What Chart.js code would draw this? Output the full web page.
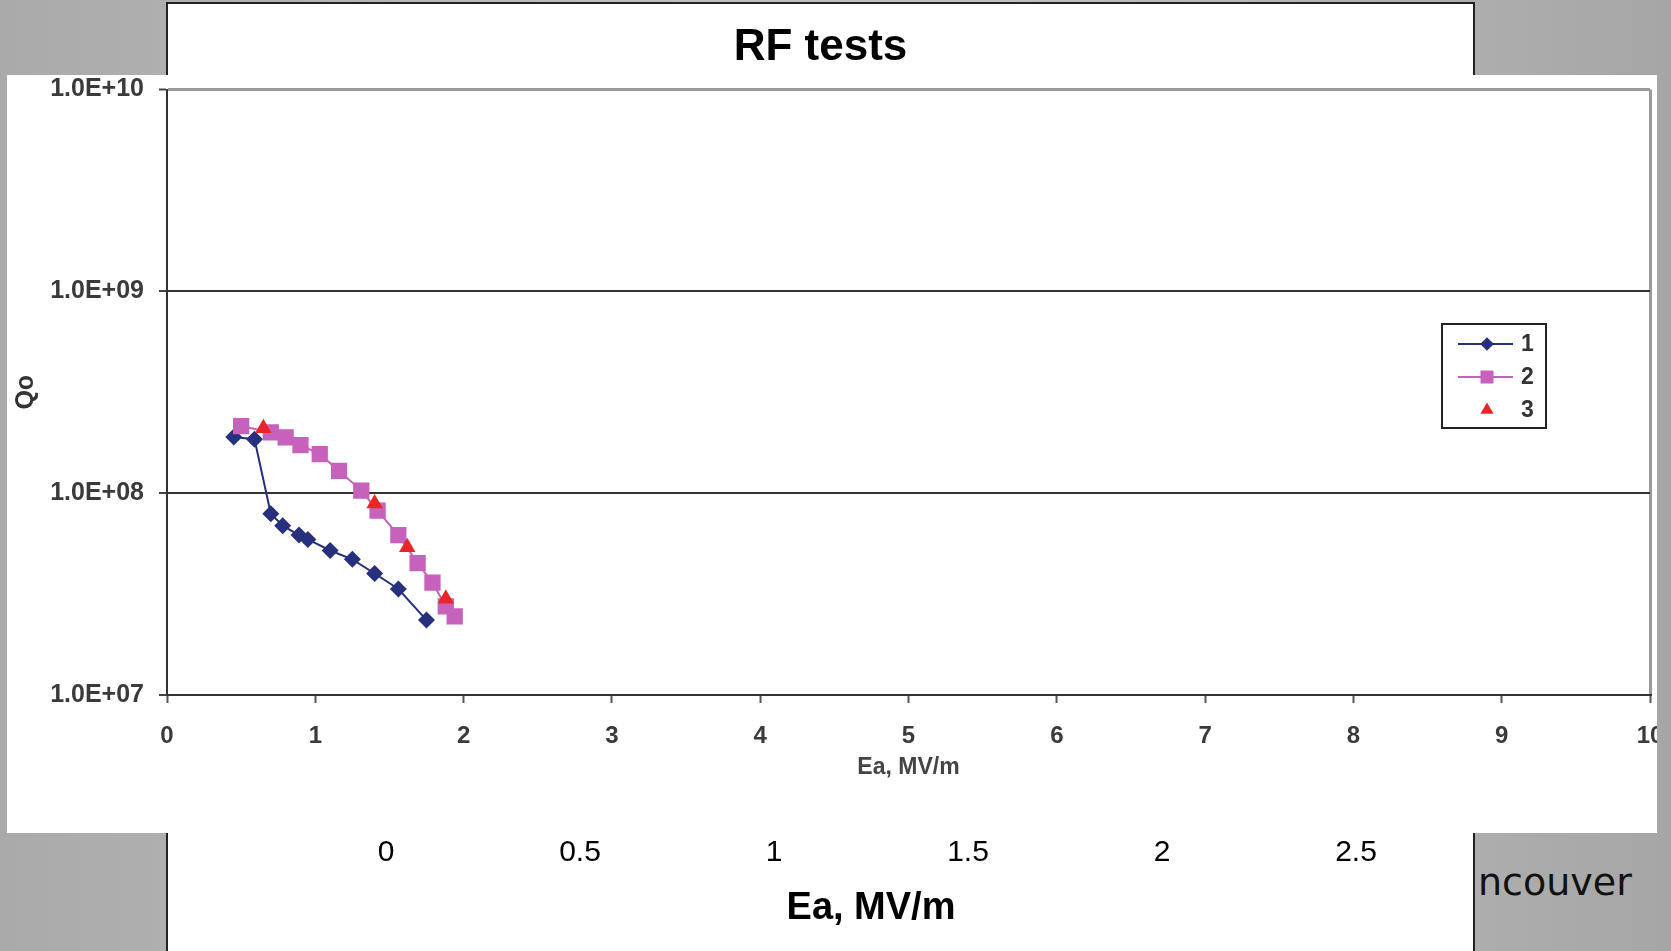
<!DOCTYPE html>
<html>
<head>
<meta charset="utf-8">
<script src="https://cdn.jsdelivr.net/npm/chart.js@4.4.1/dist/chart.umd.min.js"></script>
<style>
  body {
    margin: 0;
    width: 1671px;
    height: 951px;
    overflow: hidden;
    position: relative;
    background: linear-gradient(90deg, #aaaaaa 0%, #bebebe 40%, #bfbfbf 60%, #a6a6a6 100%);
    font-family: "Liberation Sans", Arial, sans-serif;
  }
  #back {
    position: absolute;
    left: 166px;
    top: 2px;
    width: 1305px;
    height: 960px;
    border: 2px solid #222;
    border-bottom: none;
    background: #fff;
    overflow: hidden;
  }
  #back canvas, #front canvas { position: absolute; left: 0; top: 0; }
  #front {
    position: absolute;
    left: 7px;
    top: 75px;
    width: 1650px;
    height: 758px;
    background: #fff;
    overflow: hidden;
  }
  #city {
    position: absolute;
    left: 1478px;
    top: 863px;
    font: 38px "DejaVu Sans", sans-serif;
    line-height: 1;
    color: #111;
  }
</style>
</head>
<body>
<div id="back"><canvas id="backChart" width="1305" height="947"></canvas></div>
<div id="front"><canvas id="rfChart" width="1690" height="758"></canvas></div>
<div id="city">ncouver</div>
<script>
// values
const ea1 = [0.45, 0.59, 0.70, 0.78, 0.89, 0.95, 1.10, 1.25, 1.40, 1.56, 1.75];
const q1 = [1.9e8, 1.85e8, 7.9e7, 6.9e7, 6.2e7, 5.9e7, 5.2e7, 4.7e7, 4.0e7, 3.35e7, 2.35e7];

const ea2 = [0.50, 0.70, 0.80, 0.90, 1.03, 1.16, 1.31, 1.42, 1.56, 1.69, 1.79, 1.88, 1.94];
const q2 = [2.15e8, 2.0e8, 1.89e8, 1.73e8, 1.56e8, 1.29e8, 1.03e8, 8.2e7, 6.2e7, 4.5e7, 3.6e7, 2.75e7, 2.45e7];

const ea3 = [0.65, 1.40, 1.62, 1.88];
const q3 = [2.1e8, 8.9e7, 5.4e7, 3.0e7];

const seriesNames = ["1", "2", "3"];
const qTicks = [1e7, 1e8, 1e9, 1e10];
const backTicks = [0, 0.5, 1, 1.5, 2, 2.5];

const pts = (xs, ys) => xs.map((x, i) => ({ x: x, y: ys[i] }));
const sciLabel = v => "1.0E+" + String(Math.round(Math.log10(v))).padStart(2, "0");

// invisible axis, only used to reserve room
const spacer = (pos, w) => ({
  position: pos,
  min: 0,
  max: 1,
  afterFit: s => { s.width = w; },
  grid: { display: false, drawTicks: false },
  border: { display: false },
  ticks: { display: false }
});

// ---- chart hidden behind the pasted picture ----
new Chart(document.getElementById("backChart"), {
  type: "scatter",
  data: { datasets: [{ data: [] }] },
  options: {
    responsive: false,
    animation: false,
    layout: { padding: 0 },
    plugins: {
      legend: { display: false },
      tooltip: { enabled: false },
      title: {
        display: true,
        text: "RF tests",
        color: "#000",
        font: { size: 44, weight: "bold", family: "Liberation Sans" },
        padding: { top: 17, bottom: 0 }
      }
    },
    scales: {
      x: {
        type: "linear",
        min: 0,
        max: 2.5,
        afterBuildTicks: s => { s.ticks = backTicks.map(v => ({ value: v })); },
        afterFit: s => { s.height = 124; },
        grid: { display: false, drawTicks: false },
        border: { display: false },
        ticks: {
          padding: 8,
          color: "#000",
          font: { size: 30, family: "Liberation Sans" },
          callback: v => String(v)
        },
        title: {
          display: true,
          text: "Ea, MV/m",
          color: "#000",
          font: { size: 38, weight: "bold", family: "Liberation Sans" },
          padding: { top: 0, bottom: 20 }
        }
      },
      y: spacer("left", 218),
      y2: spacer("right", 117)
    }
  }
});

// ---- legend drawn inside the plot ----
const insetLegend = {
  id: "insetLegend",
  afterDraw(chart) {
    const ctx = chart.ctx;
    const bx = 1435, by = 249, bw = 104, bh = 104;
    ctx.save();
    ctx.lineWidth = 2;
    ctx.strokeStyle = "#222";
    ctx.strokeRect(bx, by, bw, bh);
    chart.data.datasets.forEach((ds, i) => {
      const cy = by + 20 + i * 33;
      if (ds.showLine !== false) {
        ctx.strokeStyle = ds.borderColor;
        ctx.lineWidth = 2;
        ctx.beginPath();
        ctx.moveTo(bx + 16, cy);
        ctx.lineTo(bx + 71, cy);
        ctx.stroke();
      }
      ctx.fillStyle = ds.backgroundColor;
      ctx.strokeStyle = ds.backgroundColor;
      Chart.helpers.drawPoint(ctx, {
        pointStyle: ds.pointStyle,
        radius: ds.pointRadius * 0.8,
        rotation: 0,
        borderWidth: 0
      }, bx + 45, cy);
      ctx.fillStyle = "#333";
      ctx.font = "bold 23px 'Liberation Sans'";
      ctx.textBaseline = "middle";
      ctx.fillText(ds.label, bx + 79, cy + 1);
    });
    ctx.restore();
  }
};

// ---- the pasted picture: Qo vs Ea ----
new Chart(document.getElementById("rfChart"), {
  type: "scatter",
  data: {
    datasets: [
      {
        label: seriesNames[0],
        data: pts(ea1, q1),
        showLine: true,
        borderColor: "#27307c",
        backgroundColor: "#27307c",
        borderWidth: 2,
        pointStyle: "rectRot",
        pointRadius: 8.5,
        pointBorderWidth: 0,
        order: 3
      },
      {
        label: seriesNames[1],
        data: pts(ea2, q2),
        showLine: true,
        borderColor: "#c662bb",
        backgroundColor: "#c662bb",
        borderWidth: 2,
        pointStyle: "rect",
        pointRadius: 11.5,
        pointBorderWidth: 0,
        order: 2
      },
      {
        label: seriesNames[2],
        data: pts(ea3, q3),
        showLine: false,
        borderColor: "#e8262a",
        backgroundColor: "#e8262a",
        pointStyle: "triangle",
        pointRadius: 9.5,
        pointBorderWidth: 0,
        order: 1
      }
    ]
  },
  options: {
    responsive: false,
    animation: false,
    layout: { padding: { left: 0, right: 47, top: 0, bottom: 0 } },
    plugins: {
      legend: { display: false },
      tooltip: { enabled: false }
    },
    scales: {
      x: {
        type: "linear",
        min: 0,
        max: 10,
        afterFit: s => { s.height = 138; },
        grid: {
          color: c => (c.tick && c.tick.value === 10 ? "#9a9a9a" : "rgba(0,0,0,0)"),
          lineWidth: 3,
          tickColor: "#555",
          tickLength: 8,
          tickWidth: 2
        },
        border: { color: "#333", width: 2 },
        ticks: {
          stepSize: 1,
          padding: 19,
          color: "#3a3a3a",
          font: { size: 24, weight: "bold", family: "Liberation Sans" }
        },
        title: {
          display: true,
          text: "Ea, MV/m",
          color: "#444",
          font: { size: 23, weight: "bold", family: "Liberation Sans" },
          padding: { top: 0, bottom: 52 }
        }
      },
      y: {
        type: "logarithmic",
        min: 1e7,
        max: 1e10,
        afterBuildTicks: s => { s.ticks = qTicks.map(v => ({ value: v })); },
        afterFit: s => { s.width = 160; s.paddingTop = 14.5; },
        grid: {
          color: c => (c.tick && c.tick.value === 1e10 ? "#9a9a9a" : "#333"),
          lineWidth: c => (c.tick && c.tick.value === 1e10 ? 3 : 2),
          tickColor: "#444",
          tickLength: 8,
          tickWidth: 2
        },
        border: { color: "#333", width: 2 },
        ticks: {
          padding: 15,
          color: "#3a3a3a",
          font: { size: 25, weight: "bold", family: "Liberation Sans" },
          callback: v => sciLabel(v)
        },
        title: {
          display: true,
          text: "Qo",
          color: "#333",
          font: { size: 25, weight: "bold", family: "Liberation Sans" },
          padding: { top: 4, bottom: 0 }
        }
      }
    }
  },
  plugins: [insetLegend]
});
</script>
</body>
</html>
